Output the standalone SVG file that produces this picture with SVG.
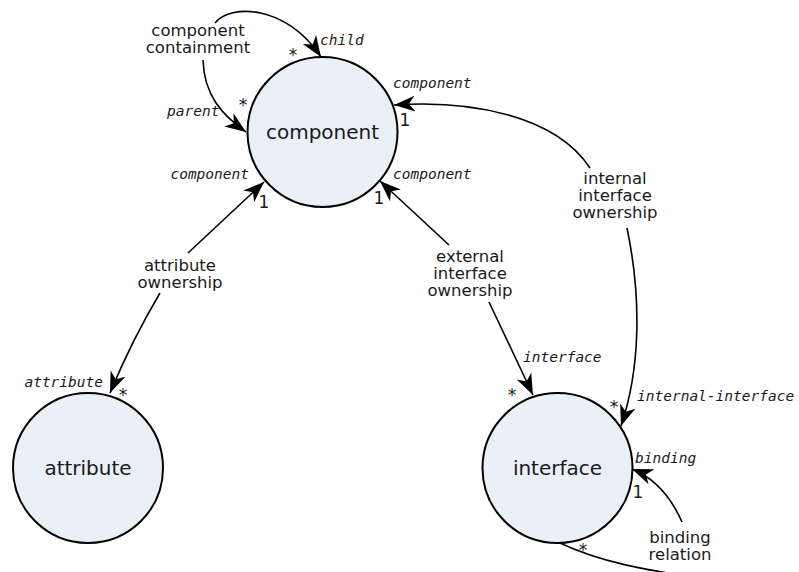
<svg xmlns="http://www.w3.org/2000/svg" width="799" height="572" viewBox="0 0 799 572">
<defs>
<style>
.node{fill:#e9f0f8;stroke:#000;stroke-width:2}
.nl{font-family:"DejaVu Sans",sans-serif;font-size:20px;fill:#1a1a1a;text-anchor:middle}
.el{font-family:"DejaVu Sans",sans-serif;font-size:16.5px;fill:#1a1a1a;text-anchor:middle}
.role{font-family:"DejaVu Sans Mono",monospace;font-style:italic;font-size:14.5px;fill:#1a1a1a}
.mult{font-family:"DejaVu Sans",sans-serif;font-size:17px;fill:#1a1a1a;text-anchor:middle}
.edge{fill:none;stroke:#000;stroke-width:1.6}
.arr{marker-end:url(#ah)}
</style>
<marker id="ah" markerUnits="userSpaceOnUse" markerWidth="22" markerHeight="18" viewBox="0 0 22 18" refX="21" refY="9" orient="auto">
<path d="M21,9 L0,1 L6,9 L0,17 Z" fill="#000"/>
</marker>
</defs>
<g id="connectors">
<path class="edge arr" d="M215,23 C230,4 286,4 321,57"/>
<path class="edge arr" d="M203,60 C204,95 222,115 246,132"/>
<path class="edge arr" d="M590,168 C555,115 470,100 394,105"/>
<path class="edge arr" d="M627,228 C642,300 640,370 621,426"/>
<path class="edge arr" d="M449,245 L380,181"/>
<path class="edge arr" d="M489,302 L533,395"/>
<path class="edge arr" d="M188,253 L264,182"/>
<path class="edge arr" d="M160,293 Q132,340 110,393"/>
<path class="edge arr" d="M682,522 C670,495 652,477 632,469"/>
<path class="edge" d="M560,543 C600,562 645,570 700,578"/>
</g>
<g id="node-component">
<circle class="node" cx="322.5" cy="132" r="75"/>
<text class="nl" x="322.5" y="139">component</text>
</g>
<g id="node-attribute">
<circle class="node" cx="88" cy="468" r="75"/>
<text class="nl" x="88" y="475">attribute</text>
</g>
<g id="node-interface">
<circle class="node" cx="557.5" cy="468" r="75"/>
<text class="nl" x="557.5" y="475">interface</text>
</g>
<g id="labels">
<text class="el"><tspan x="198" y="36">component</tspan><tspan x="198" y="53">containment</tspan></text>
<text class="el"><tspan x="615" y="184">internal</tspan><tspan x="615" y="201">interface</tspan><tspan x="615" y="218">ownership</tspan></text>
<text class="el"><tspan x="470" y="262">external</tspan><tspan x="470" y="279">interface</tspan><tspan x="470" y="296">ownership</tspan></text>
<text class="el"><tspan x="180" y="271">attribute</tspan><tspan x="180" y="288">ownership</tspan></text>
<text class="el"><tspan x="680" y="543">binding</tspan><tspan x="680" y="560">relation</tspan></text>
<text class="role" x="320" y="45">child</text>
<text class="role" x="167" y="116">parent</text>
<text class="role" x="393" y="88">component</text>
<text class="role" x="393" y="179">component</text>
<text class="role" x="249" y="179" text-anchor="end">component</text>
<text class="role" x="103" y="387" text-anchor="end">attribute</text>
<text class="role" x="523" y="362">interface</text>
<text class="role" x="637" y="401">internal-interface</text>
<text class="role" x="635" y="463">binding</text>
<text class="mult" x="293" y="61">*</text>
<text class="mult" x="243" y="111">*</text>
<text class="mult" x="123" y="401">*</text>
<text class="mult" x="512" y="401">*</text>
<text class="mult" x="614" y="413">*</text>
<text class="mult" x="583" y="556">*</text>
<text class="mult" x="405" y="126">1</text>
<text class="mult" x="379" y="204">1</text>
<text class="mult" x="264" y="208">1</text>
<text class="mult" x="638" y="498">1</text>
</g>
</svg>
